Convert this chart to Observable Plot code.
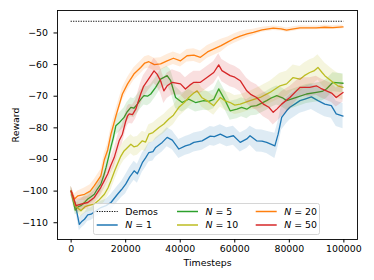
<!DOCTYPE html>
<html>
<head>
<meta charset="utf-8">
<script src="https://cdn.jsdelivr.net/npm/d3@7"></script>
<script src="https://cdn.jsdelivr.net/npm/@observablehq/plot@0.6"></script>
<style>
  html, body { margin: 0; padding: 0; background: #fff; }
  #chart { width: 374px; height: 280px; }
</style>
</head>
<body>
<div id="chart"></div>
<script>
// ---- data: [timestep, mean reward, spread] ----
const demosReward = -46.3;
const demosRange = [0, 100000];

const n1 = [[0,-100,1.5],[1500,-104,1.5],[3000,-110.5,2],[4000,-109.5,2],[4900,-108.9,2],[6100,-107.5,2],[7300,-107.3,2],[9000,-106.3,2],[10900,-105.2,2],[12800,-104.6,2],[14600,-103.6,2.5],[17000,-101,2.5],[18500,-99.5,2.5],[20000,-97.8,3],[21500,-95.5,3],[23100,-93.6,3],[24300,-94.5,3],[26100,-91,3],[27300,-89.5,3],[28500,-87.8,3],[30000,-87.5,3],[31000,-86.2,3],[33400,-84.6,3],[35200,-83,3],[37100,-83.9,3],[39500,-86.7,3],[41900,-85.7,3],[43500,-85.3,3],[45000,-84.6,3],[48000,-84.1,3],[51000,-82.6,3],[52500,-82.8,3],[54700,-82,3],[57100,-83,3],[59500,-82.5,3],[62000,-84.6,3],[64400,-83.5,3],[65600,-82.5,3],[68000,-84.1,3.5],[70000,-84.2,3.5],[71700,-84.6,3.5],[74700,-85.7,4],[75900,-82,4],[77200,-76.7,4],[79000,-74.6,4],[80200,-73.5,4],[82000,-72.5,4],[83900,-71.4,4],[85700,-70.9,4],[88100,-70.2,4],[90500,-71.4,4],[93000,-72.5,4],[95400,-73,4],[97200,-75.6,4],[99700,-76.3,4]];

const n5 = [[0,-100,1.5],[1500,-106,1.5],[2500,-105,2],[3600,-104.6,2],[5000,-103.5,2],[6100,-102.5,2],[7300,-101.8,2],[8500,-101,2],[9500,-99.5,2],[10900,-97.8,2.5],[12000,-95,2.5],[12800,-92.5,2.5],[13800,-89,2.5],[14600,-86,2.5],[15500,-83,3],[16400,-79.3,3],[17500,-78.5,3],[19400,-76.7,3],[20500,-75,3],[21900,-73.5,3],[23000,-73.8,3],[24300,-72.5,3],[25500,-71,3],[26700,-69.8,3],[28000,-70,3],[29200,-69.3,3],[31000,-67.2,3],[32800,-64.6,3],[35200,-63.5,3],[36500,-65.1,3.5],[38300,-70.4,3.5],[40700,-72,3],[43100,-70.9,3],[45600,-72,3],[48600,-71.4,3],[50500,-71.6,3],[52300,-71,3],[54100,-67.7,3],[56500,-71.4,3],[58300,-74.6,3],[60800,-74.1,3],[62500,-73.5,3],[64400,-74.1,3],[66000,-73.2,3],[68000,-73,3],[71700,-71.4,3],[73500,-70.5,3],[75400,-69.8,3],[77500,-70.5,3],[79000,-71.4,3],[82600,-70.4,3],[86300,-69.3,3],[89900,-68.8,3],[92000,-68.5,3],[93600,-67.7,3],[96000,-65.6,3],[99700,-65.9,3]];

const n10 = [[0,-100,1.5],[1500,-104.6,1.5],[3600,-106.2,2],[5000,-105,2],[6100,-104.6,2],[8500,-104.1,2],[10000,-103,2.5],[12200,-101,2.5],[13500,-99,2.5],[14600,-96.7,3],[16000,-93.5,3],[17000,-91.4,3],[18200,-89,3],[19400,-87.3,3],[21900,-85.2,3],[23000,-86,3],[24300,-85.7,3],[26100,-84.1,3],[27300,-84.5,3],[28500,-82,3],[30000,-81.5,3],[32200,-79.9,3],[34000,-78.8,3],[35800,-77.2,3],[37500,-76,3],[39500,-73.5,3],[41500,-72,3],[43100,-70.4,3],[45000,-69,3],[46200,-68.3,3],[48000,-70.5,3],[49800,-71.4,3],[52300,-73,3],[54700,-70.4,3],[56500,-71.5,3],[58300,-72,3],[60000,-72.8,3],[62000,-72.5,3],[65600,-71.4,3],[69300,-70.4,3.5],[72900,-68.8,3.5],[76600,-66.7,4],[79000,-66.1,4],[81400,-64.1,4],[83900,-64.6,4],[85500,-63.5,4],[87500,-62.5,4],[89000,-62,4],[90500,-60.9,4],[92000,-62.5,4],[93000,-63.5,4],[96000,-65.6,4],[97800,-66.7,4],[99700,-67.2,4]];

const n20 = [[0,-100,1.5],[1200,-102.5,1.5],[2500,-101.5,1.5],[4900,-101,2],[7000,-100,2],[8500,-98.3,2],[10900,-95.2,2],[12200,-90,2],[13400,-87,2],[14600,-82,2],[16500,-76,2],[18800,-69.3,2],[20700,-66.1,2],[23000,-63,2],[25500,-60.9,2],[27000,-59.5,2],[28500,-59.1,2],[30500,-60,2],[32800,-59.8,2],[35200,-58.8,2],[37500,-58,2],[40100,-58.8,2],[42500,-57.2,2],[45000,-57,2],[47400,-57.7,2],[50000,-56,2],[52200,-55.1,2],[55000,-54,2],[57500,-52.8,1.5],[59500,-51.9,1.5],[62000,-51,1.5],[64500,-50.3,1.2],[66800,-49.8,1],[70000,-49,0.8],[74100,-48.5,0.7],[77000,-48.7,0.7],[79000,-49.1,0.7],[81000,-48.8,0.7],[83900,-48.4,0.7],[87000,-48.4,0.6],[89900,-48.4,0.6],[93000,-48.2,0.6],[96000,-48.3,0.6],[99700,-48.1,0.6]];

const n50 = [[0,-100,1.5],[1800,-104.6,2],[3600,-104.1,2],[6100,-103.6,2],[8500,-102,2],[10900,-98.8,2.5],[12000,-97,2.5],[13400,-94.6,2.5],[14500,-92,2.5],[15800,-89.4,3],[17600,-84.1,3],[18800,-82,3],[20000,-78,3],[20700,-76.2,3],[21300,-75.6,3],[22500,-75.8,3],[23700,-74.1,3],[25500,-69.3,3.5],[26500,-67,3.5],[28000,-65.1,3.5],[30400,-62,4],[31500,-63,4],[32800,-65.1,4],[34000,-68.3,4],[35200,-66.7,4],[37100,-65.6,4],[40100,-66.1,3.5],[41900,-67.7,3.5],[43500,-66.5,3.5],[45000,-65.6,3.5],[47400,-65.6,3.5],[49800,-64.1,3.5],[52300,-62.5,3.5],[54100,-60.1,3.5],[55300,-61.9,3.5],[58300,-63.5,3.5],[60000,-64,3.5],[62000,-65.1,3.5],[64400,-68.3,4],[66000,-69.5,4],[68000,-70.4,4],[70500,-72.5,4],[72500,-73.5,4],[74100,-75.1,4],[75500,-74,4],[77200,-72.5,4],[80200,-70.4,3.5],[83900,-67.2,3],[87500,-67.2,3],[89900,-66.7,3],[91500,-67.5,3],[93600,-68.3,3],[95500,-69,3],[97200,-70.4,3],[99700,-68.8,3]];

const seriesNames = ["1", "5", "10", "20", "50"];
const seriesData = [n1, n5, n10, n20, n50];
const seriesColors = ["#1f77b4", "#2ca02c", "#bcbd22", "#ff7f0e", "#d62728"];

const xTicks = [0, 20000, 40000, 60000, 80000, 100000];
const yTicks = [-110, -100, -90, -80, -70, -60, -50];
const xLabel = "Timesteps";
const yLabel = "Reward";
const demosLabel = "Demos";

// legend entries (Demos first, then N = ... )
const legendOrder = ["demos", "1", "5", "10", "20", "50"];

// ---- build table ----
const rows = [];
seriesNames.forEach((name, i) => {
  seriesData[i].forEach(([t, r, s]) => rows.push({series: name, t, r, lo: r - s, hi: r + s}));
});
const colorOf = Object.fromEntries(seriesNames.map((n, i) => [n, seriesColors[i]]));

const FONT = "'DejaVu Sans', sans-serif";
const fmtMinus = d => (d < 0 ? "\u2212" : "") + Math.abs(d);

const marks = [];
seriesNames.forEach(name => {
  const d = rows.filter(r => r.series === name);
  marks.push(Plot.areaY(d, {x: "t", y1: "lo", y2: "hi", fill: colorOf[name], fillOpacity: 0.15, curve: "linear"}));
  marks.push(Plot.line(d, {x: "t", y: "r", stroke: colorOf[name], strokeWidth: 1.3}));
});

const chart = Plot.plot({
  width: 374,
  height: 280,
  marginLeft: 57,
  marginRight: 17,
  marginTop: 10,
  marginBottom: 41,
  style: {fontFamily: FONT, fontSize: "9.4px", color: "#000", background: "#fff"},
  x: {domain: [-5000, 105000]},
  y: {domain: [-115.3, -42.9]},
  marks: [
    ...marks,
    Plot.ruleY([demosReward], {x1: demosRange[0], x2: demosRange[1], stroke: "#000", strokeWidth: 1.2, strokeDasharray: "1.2,1.3"}),
    Plot.frame({stroke: "#000", strokeWidth: 0.9}),
    Plot.axisX({ticks: xTicks, tickFormat: d => String(d), tickSize: 3.5, tickPadding: 2.5, label: null, fontSize: "9.4px"}),
    Plot.axisY({ticks: yTicks, tickFormat: fmtMinus, tickSize: 3.5, tickPadding: 6, label: null, fontSize: "9.4px"}),
    Plot.text([xLabel], {frameAnchor: "bottom", dy: 23, text: d => d, fontSize: 9.4, textAnchor: "middle", lineAnchor: "middle"}),
    Plot.text([yLabel], {frameAnchor: "left", dx: -42, rotate: -90, text: d => d, fontSize: 9.4, textAnchor: "middle", lineAnchor: "middle"})
  ]
});
document.getElementById("chart").appendChild(chart);

// ---- legend (inside the axes, lower right) ----
const svg = d3.select(chart);
const lg = svg.append("g").attr("font-family", FONT).attr("font-size", "9.4px").attr("text-anchor", "start");
lg.append("rect").attr("x", 93.5).attr("y", 203.5).attr("width", 226).attr("height", 31)
  .attr("rx", 2).attr("fill", "#fff").attr("fill-opacity", 0.8).attr("stroke", "#ccc").attr("stroke-width", 0.8);
const colX = [96.7, 177, 255.7];
const rowY = [211.5, 225];
legendOrder.forEach((key, i) => {
  const c = Math.floor(i / 2), r = i % 2;
  const x0 = colX[c], y0 = rowY[r];
  const line = lg.append("line").attr("x1", x0).attr("x2", x0 + 21).attr("y1", y0).attr("y2", y0);
  const t = lg.append("text").attr("x", x0 + 28.5).attr("y", y0).attr("dy", "0.35em")
    .attr("fill", "#000").attr("text-anchor", "start");
  if (key === "demos") {
    line.attr("stroke", "#000").attr("stroke-width", 1.2).attr("stroke-dasharray", "1.2,1.3");
    t.text(demosLabel);
  } else {
    line.attr("stroke", colorOf[key]).attr("stroke-width", 1.5);
    t.append("tspan").attr("font-style", "italic").text("N");
    t.append("tspan").text(" = " + key);
  }
});
</script>
</body>
</html>
